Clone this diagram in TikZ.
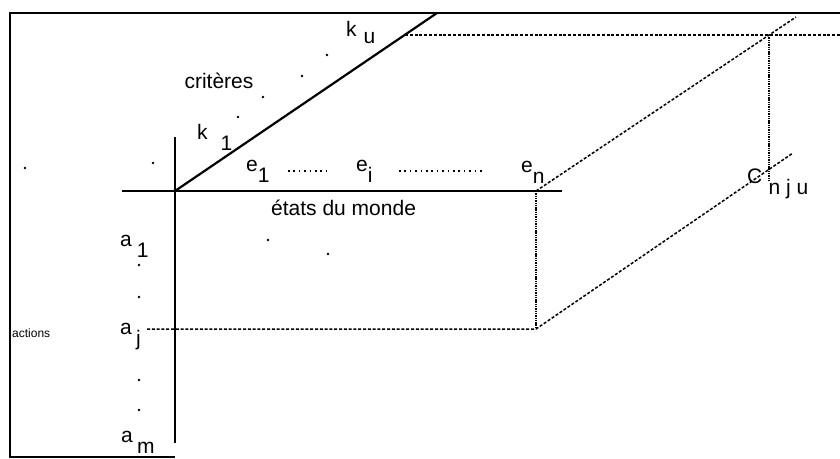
\documentclass[tikz,border=0pt]{standalone}
\usepackage{fontspec}
\setmainfont{Liberation Sans}
\newcommand{\idxlab}[3][0em]{#2\hspace{#1}\raisebox{-0.57em}{#3}}

\begin{document}
\begin{tikzpicture}[
		x=1pt, y=-1pt,
		every node/.style={inner sep=0pt, font=\fontsize{21}{21}\selectfont},
		lab/.style={anchor=base west},
		axis/.style={line width=1.6pt},
		hidden/.style={line width=1.5pt, dash pattern=on 3pt off 1.8pt},
		vhidden/.style={line width=1.4pt, dash pattern=on 1.4pt off 0.9pt},
		dotrow/.style={line width=1.6pt, dash pattern=on 1.6pt off 3.8pt},
		spot/.style={circle, fill, inner sep=0pt, minimum size=2.8pt}
	]
	\useasboundingbox (0,0) rectangle (840,458);
	% frame
	\draw[line width=1.4pt] (840,13) -- (10,13) -- (10,457) -- (175,457);

	\coordinate (O) at (175,191);
	\coordinate (xl) at (122,191);
	\coordinate (xr) at (562,191);
	\coordinate (yt) at (175,137);
	\coordinate (yb) at (175,443);
	\coordinate (ku) at (437,13);
	\coordinate (kt) at (405,35);
	\coordinate (re) at (840,35);
	\coordinate (en) at (536,191);
	\coordinate (aj) at (536,329);
	\coordinate (ajl) at (147,329);
	\coordinate (top) at (796,17);
	\coordinate (cu) at (769,35);
	\coordinate (c) at (769,182);
	\coordinate (low) at (793,153);

	% axes
	\draw[axis] (xl) -- (xr);
	\draw[axis] (yt) -- (yb);
	\draw[line width=2.2pt] (O) -- (ku);

	% hidden edges
	\draw[hidden] (kt) -- (re);
	\draw[hidden] (en) -- (top);
	\draw[vhidden] (cu) -- (c);
	\draw[vhidden] (en) -- (aj);
	\draw[hidden] (ajl) -- (aj) -- (low);

	% labels
	\node[anchor=base] (crit) at (219,88) {critères};
	\node[lab] (k1) at (197,139) {\idxlab[0.62em]{k}{1}};
	\node[lab] (kU) at (346,36) {k\hspace{0.33em}\raisebox{-0.38em}{u}};
	\node[lab] (e1) at (246,171) {\idxlab{e}{1}};
	\node[lab] (ei) at (356,171) {\idxlab{e}{i}};
	\node[lab] (eN) at (521,172) {\idxlab{e}{n}};
	\node[lab] (etats) at (271,215) {états du monde};
	\node[lab] (cnju) at (747,183) {\idxlab[0.3em]{C}{n j u}};
	\node[lab] (a1) at (120,246) {\idxlab[0.24em]{a}{1}};
	\node[lab] (aJ) at (120,334) {\idxlab[0.2em]{a}{j}};
	\node[lab] (aM) at (121,442) {\idxlab[0.2em]{a}{m}};
	\node[lab, font=\fontsize{12}{12}\selectfont] (act) at (12,337) {actions};

	% dotted runs
	\coordinate (r1a) at (288,171);
	\coordinate (r1b) at (331,171);
	\coordinate (r2a) at (399,171);
	\coordinate (r2b) at (484,171);
	\draw[dotrow] (r1a) -- (r1b);
	\draw[dotrow] (r2a) -- (r2b);

	% dots
	\foreach \p in {(238,117), (263,97), (302,76), (327,55), (153,163), (25,168),
		(139,265), (139,297), (139,380), (139,410), (268,240), (328,254)}
		\node[spot] at \p {};
\end{tikzpicture}
\end{document}
